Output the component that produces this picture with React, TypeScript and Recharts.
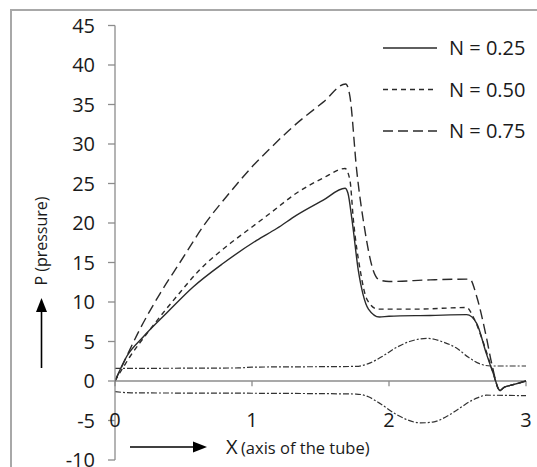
import React from 'react';
import { LineChart, Line, XAxis, YAxis, ReferenceLine, ReferenceDot, Legend } from 'recharts';

// ---- data ----
const yTicks = [-10, -5, 0, 5, 10, 15, 20, 25, 30, 35, 40, 45];
const xTicks = [0, 1, 2, 3];
const seriesLabels = ['N = 0.25', 'N = 0.50', 'N = 0.75'];

const n25X = [0, 0.085, 0.207, 0.377, 0.57, 0.79, 1.034, 1.18, 1.326, 1.52, 1.679, 1.7, 1.73, 1.776, 1.81, 1.85, 1.93, 2.0, 2.3, 2.567, 2.64, 2.71, 2.76, 2.81, 2.84, 2.9, 3.0];
const n25P = [0, 3.1, 5.6, 8.6, 11.9, 14.9, 17.8, 19.3, 21.0, 22.9, 24.4, 23.8, 20.4, 14.0, 11.0, 9.1, 8.1, 8.2, 8.3, 8.4, 7.3, 3.5, 1.0, -1.2, -0.8, -0.5, 0.0];

const n50X = [0, 0.11, 0.255, 0.45, 0.62, 0.84, 1.0, 1.13, 1.326, 1.52, 1.679, 1.715, 1.74, 1.79, 1.84, 1.92, 2.2, 2.567, 2.615, 2.69, 2.75, 2.81, 2.84, 2.9, 3.0];
const n50P = [0, 3.1, 6.5, 10.7, 14.1, 17.4, 19.5, 21.2, 23.8, 25.7, 26.9, 25.4, 20.4, 14.0, 10.3, 9.1, 9.1, 9.3, 8.1, 4.8, 1.6, -1.2, -0.8, -0.5, 0.0];

const n75X = [0, 0.06, 0.18, 0.33, 0.474, 0.645, 0.86, 1.01, 1.13, 1.3, 1.52, 1.684, 1.715, 1.764, 1.82, 1.885, 1.93, 2.0, 2.3, 2.59, 2.64, 2.71, 2.75, 2.81, 2.84, 2.9, 3.0];
const n75P = [0, 2.2, 6.5, 11.1, 15.0, 19.6, 24.3, 27.3, 29.4, 32.2, 35.3, 37.6, 36.0, 26.7, 19.5, 14.0, 12.8, 12.6, 12.8, 12.9, 10.7, 5.6, 2.2, -1.2, -0.8, -0.5, 0.0];

const upperX = [0, 0.9, 1.0, 1.76, 1.85, 1.95, 2.05, 2.15, 2.28, 2.4, 2.49, 2.58, 2.66, 2.74, 3.0];
const upperR = [1.6, 1.65, 1.75, 1.85, 2.2, 3.1, 4.2, 5.0, 5.4, 4.9, 4.2, 3.0, 2.2, 1.9, 1.9];

const lowerX = [0, 0.12, 1.0, 1.76, 1.85, 1.93, 2.06, 2.23, 2.32, 2.42, 2.52, 2.59, 2.65, 2.71, 3.0];
const lowerR = [-1.35, -1.5, -1.55, -1.65, -2.0, -2.8, -4.3, -5.3, -5.2, -4.5, -3.4, -2.6, -2.1, -1.8, -1.86];

const toPoints = (xs: number[], ps: number[]) => xs.map((x, i) => ({ x, p: ps[i] }));

const n25Data = toPoints(n25X, n25P);
const n50Data = toPoints(n50X, n50P);
const n75Data = toPoints(n75X, n75P);
const upperData = toPoints(upperX, upperR);
const lowerData = toPoints(lowerX, lowerR);

// ---- styles ----
const FONT = '"Open Sans", "DejaVu Sans", sans-serif';
const CURVE = '#2a2a2a';
const AXIS = '#8c8c8c';
const dashes = [undefined, '5 4', '10 5'];

const LegendBox = () => (
  <svg width={160} height={125}>
    {seriesLabels.map((lab, i) => {
      const y = 18 + i * 41.5;
      return (
        <g key={lab}>
          <line x1={8} x2={62} y1={y} y2={y} stroke={CURVE} strokeWidth={1.4} strokeDasharray={dashes[i]} />
          <text x={74} y={y} dy="0.35em" fontSize={20} fill="#1a1a1a" fontFamily={FONT}>{lab}</text>
        </g>
      );
    })}
  </svg>
);

export default function App() {
  return (
    <div style={{ position: 'absolute', left: 0, top: 0, width: 537, height: 467, overflow: 'hidden', background: '#fff', fontFamily: FONT }}>
      <div style={{ position: 'absolute', left: 10, top: 9, width: 600, height: 600, border: '2px solid #a8a8a8' }} />
      <div style={{ position: 'absolute', left: 0, top: 0 }}>
        <LineChart width={537} height={467} margin={{ top: 25.5, right: 11, bottom: 7, left: 0 }}>
          <XAxis type="number" dataKey="x" domain={[0, 3]} hide allowDataOverflow />
          <YAxis
            type="number"
            domain={[-10, 45]}
            ticks={yTicks}
            width={115}
            interval={0}
            axisLine={{ stroke: AXIS, strokeWidth: 1.3 }}
            tickLine={{ stroke: AXIS, strokeWidth: 1.3 }}
            tickSize={7}
            tickMargin={13}
            tick={{ fill: '#1a1a1a', fontSize: 20 }}
          />
          <ReferenceLine y={0} stroke={AXIS} strokeWidth={1.3} />
          {xTicks.map((v) => (
            <ReferenceLine key={'t' + v} segment={[{ x: v, y: 0 }, { x: v, y: -0.65 }]} stroke={AXIS} strokeWidth={1.3} />
          ))}
          {xTicks.map((v) => (
            <ReferenceDot
              key={'l' + v}
              x={v}
              y={-4.9}
              r={0}
              fill="none"
              stroke="none"
              label={{ value: String(v), position: 'center', fontSize: 20, fill: '#1a1a1a' }}
            />
          ))}
          <Line data={upperData} dataKey="p" type="monotone" stroke="#333" strokeWidth={1.2} strokeDasharray="6 2 2 2" dot={false} activeDot={false} isAnimationActive={false} legendType="none" />
          <Line data={lowerData} dataKey="p" type="monotone" stroke="#333" strokeWidth={1.2} strokeDasharray="6 2 2 2" dot={false} activeDot={false} isAnimationActive={false} legendType="none" />
          <Line data={n25Data} dataKey="p" name={seriesLabels[0]} type="monotone" stroke={CURVE} strokeWidth={1.4} dot={false} activeDot={false} isAnimationActive={false} />
          <Line data={n50Data} dataKey="p" name={seriesLabels[1]} type="monotone" stroke={CURVE} strokeWidth={1.4} strokeDasharray="5 4" dot={false} activeDot={false} isAnimationActive={false} />
          <Line data={n75Data} dataKey="p" name={seriesLabels[2]} type="monotone" stroke={CURVE} strokeWidth={1.4} strokeDasharray="10 5" dot={false} activeDot={false} isAnimationActive={false} />
          <Legend
            layout="horizontal"
            verticalAlign="middle"
            align="center"
            content={() => <LegendBox />}
            wrapperStyle={{ top: 30, left: 375, width: 160, height: 125 }}
          />
        </LineChart>
      </div>
      <svg width={537} height={467} style={{ position: 'absolute', left: 0, top: 0, pointerEvents: 'none' }}>
        <text transform="translate(47,241) rotate(-90)" textAnchor="middle" fontSize={16} fill="#1a1a1a" fontFamily={FONT}>P (pressure)</text>
        <line x1={41.5} y1={368} x2={41.5} y2={310} stroke="#000" strokeWidth={1.6} />
        <polygon points="41.5,298 36,312 47,312" fill="#000" />
        <line x1={130} y1={447} x2={194} y2={447} stroke="#000" strokeWidth={1.6} />
        <polygon points="207,447 193,441.5 193,452.5" fill="#000" />
        <text x={226} y={454} fontSize={20} fill="#1a1a1a" fontFamily={FONT}>X</text>
        <text x={241} y={454} fontSize={16.5} fill="#1a1a1a" fontFamily={FONT}>(axis of the tube)</text>
      </svg>
    </div>
  );
}
